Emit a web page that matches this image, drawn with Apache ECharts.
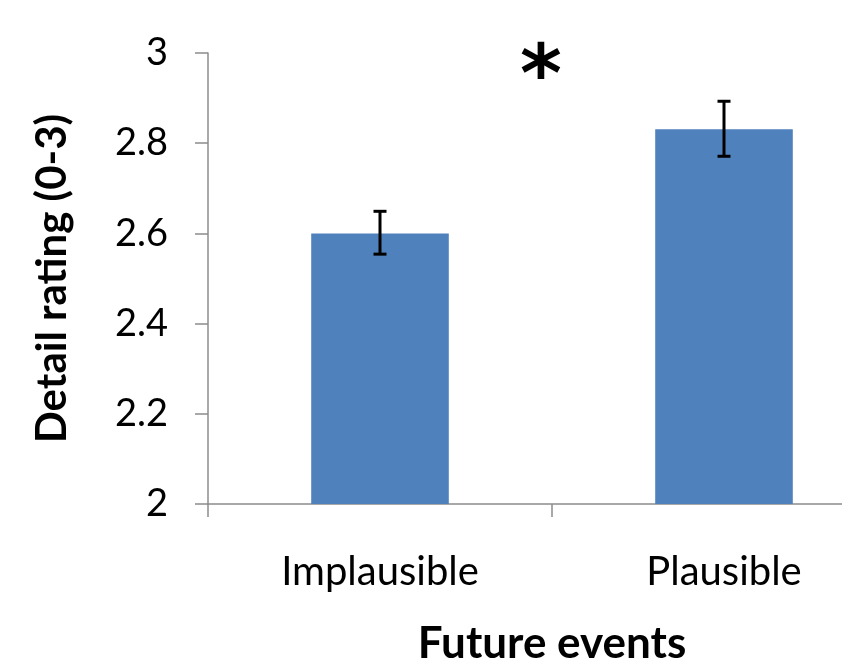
<!DOCTYPE html>
<html>
<head>
<meta charset="utf-8">
<script src="https://cdn.jsdelivr.net/npm/echarts@6/dist/echarts.min.js"></script>
<style>html,body{margin:0;padding:0;background:#fff;overflow:hidden;width:842px;height:663px;}#c{width:900px;height:663px;}</style>
</head>
<body>
<div id="c"></div>
<script>
const categories = ['Implausible', 'Plausible'];
const means = [2.60, 2.831];
const errLow = [2.554, 2.771];
const errHigh = [2.649, 2.893];
const yTicks = [2, 2.2, 2.4, 2.6, 2.8, 3];
const yAxisTitle = 'Detail rating (0-3)';
const xAxisTitle = 'Future events';
const sigMark = '*';

const FONT = 'Lato';
const chart = echarts.init(document.getElementById('c'), null, {renderer: 'canvas'});
const errData = categories.map((c, i) => [i, errLow[i], errHigh[i]]);

chart.setOption({
  animation: false,
  backgroundColor: '#fff',
  grid: {left: 208, top: 53, width: 688, height: 451, containLabel: false, outerBoundsMode: 'none'},
  xAxis: {
    type: 'category',
    data: categories,
    name: xAxisTitle,
    nameLocation: 'middle',
    nameGap: 118,
    nameTextStyle: {fontFamily: FONT, fontSize: 44, fontWeight: 'bold', color: '#000'},
    axisLine: {lineStyle: {color: '#8c8c8c', width: 1.5}},
    axisTick: {show: true, alignWithLabel: false, length: 13, lineStyle: {color: '#8c8c8c', width: 1.5}},
    axisLabel: {fontFamily: FONT, fontSize: 40, color: '#000', margin: 48}
  },
  yAxis: {
    type: 'value',
    min: 2, max: 3, interval: 0.2,
    name: yAxisTitle,
    nameLocation: 'middle',
    nameGap: 135,
    nameRotate: 90,
    nameTextStyle: {fontFamily: FONT, fontSize: 42, fontWeight: 'bold', color: '#000'},
    splitLine: {show: false},
    axisLine: {show: true, lineStyle: {color: '#8c8c8c', width: 1.5}},
    axisTick: {show: true, inside: false, length: 13, lineStyle: {color: '#8c8c8c', width: 1.5}},
    axisLabel: {fontFamily: FONT, fontSize: 38, color: '#000', margin: 40,
      formatter: v => (yTicks.indexOf(+v.toFixed(1)) >= 0 ? String(+v.toFixed(1)) : '')}
  },
  series: [
    {
      type: 'bar',
      data: means,
      barWidth: '40%',
      itemStyle: {color: '#4F81BD'},
      z: 2
    },
    {
      type: 'custom',
      data: errData,
      z: 5,
      renderItem: function (params, api) {
        const x = api.value(0);
        const lo = api.coord([x, api.value(1)]);
        const hi = api.coord([x, api.value(2)]);
        const hw = 6.5;
        const st = {stroke: '#000', lineWidth: 3};
        return {
          type: 'group',
          children: [
            {type: 'line', shape: {x1: lo[0], y1: lo[1], x2: hi[0], y2: hi[1]}, style: st},
            {type: 'line', shape: {x1: hi[0] - hw, y1: hi[1], x2: hi[0] + hw, y2: hi[1]}, style: st},
            {type: 'line', shape: {x1: lo[0] - hw, y1: lo[1], x2: lo[0] + hw, y2: lo[1]}, style: st}
          ]
        };
      }
    }
  ],
  graphic: [
    {type: 'text', left: 520, top: 40, style: {text: sigMark, fontFamily: 'DejaVu Sans', fontWeight: 'bold', fontSize: 80, fill: '#000'}}
  ]
});
</script>
</body>
</html>
